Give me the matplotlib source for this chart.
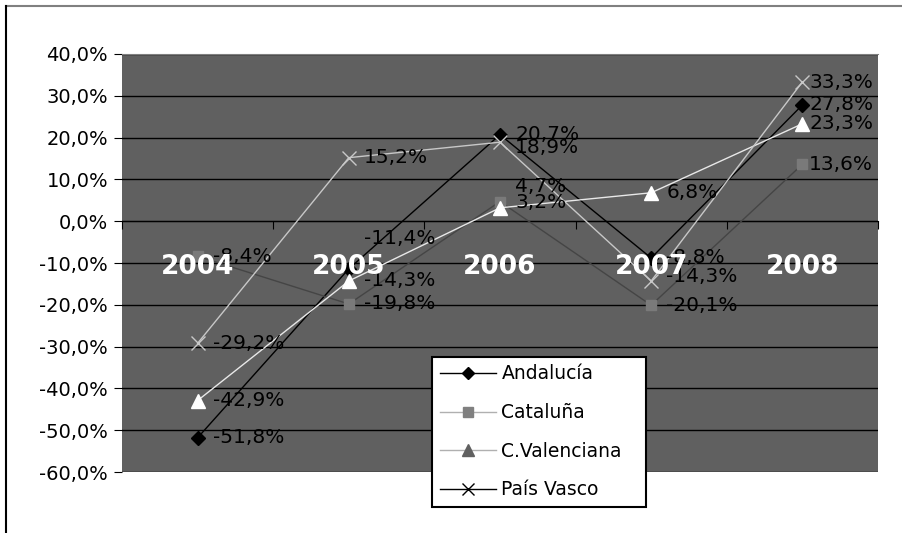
import matplotlib.pyplot as plt
from matplotlib.lines import Line2D

years = ["2004", "2005", "2006", "2007", "2008"]
andalucia = [-51.8, -11.4, 20.7, -8.8, 27.8]
cataluna = [-8.4, -19.8, 4.7, -20.1, 13.6]
valenciana = [-42.9, -14.3, 3.2, 6.8, 23.3]
pais_vasco = [-29.2, 15.2, 18.9, -14.3, 33.3]
names = ["Andalucía", "Cataluña", "C.Valenciana", "País Vasco"]
yticks = [-60, -50, -40, -30, -20, -10, 0, 10, 20, 30, 40]


def pct(v):
    return f"{v:.1f}%".replace(".", ",")


fig = plt.figure(figsize=(9.02, 5.33), dpi=100)
fig.patch.set_facecolor("white")
# outer frame (only top and left visible in the reference)
fig.add_artist(Line2D([0.0066, 1.0], [0.988, 0.988], color="#808080", lw=1.5,
                      transform=fig.transFigure))
fig.add_artist(Line2D([0.0066, 0.0066], [0.0, 0.988], color="black", lw=1.5,
                      transform=fig.transFigure))

ax = fig.add_axes([0.1353, 0.1144, 0.838, 0.7843])
ax.set_facecolor("#606060")
x = list(range(len(years)))

styles = [
    dict(color="black", marker="D", ms=7, mfc="black", mec="black"),
    dict(color="#454545", marker="s", ms=7.5, mfc="#7a7a7a", mec="#7a7a7a"),
    dict(color="#e8e8e8", marker="^", ms=10, mfc="white", mec="white"),
    dict(color="#c8c8c8", marker="x", ms=10, mfc="#c8c8c8", mec="#c8c8c8"),
]
series = [andalucia, cataluna, valenciana, pais_vasco]
for vals, st in zip(series, styles):
    ax.plot(x, vals, lw=1, zorder=3, **st)

# label offsets in points (dx, dy), tuned per label
offsets = {}
for s in range(4):
    for i in range(5):
        offsets[(s, i)] = (11, 0) if i < 4 else (5, 0)
offsets[(0, 1)] = (11, 22)
offsets[(3, 2)] = (11, -4)
offsets[(1, 2)] = (11, 11)
offsets[(2, 2)] = (11, 4)
offsets[(3, 3)] = (11, 3)

for s, vals in enumerate(series):
    for i, v in enumerate(vals):
        ax.annotate(pct(v), (i, v), xytext=offsets[(s, i)],
                    textcoords="offset points", ha="left", va="center",
                    fontsize=14.5, color="black", zorder=5)

for i, yr in enumerate(years):
    ax.text(i, -11, yr, ha="center", va="center", fontsize=19,
            fontweight="bold", color="white", zorder=6)

ax.set_xlim(-0.5, 4.5)
ax.set_ylim(-60, 40)
ax.set_yticks(yticks)
ax.set_yticklabels([pct(v) for v in yticks], fontsize=14)
ax.yaxis.grid(True, color="black", lw=1)
ax.set_axisbelow(True)
ax.tick_params(axis="y", direction="out", length=6, color="black", pad=4)

ax.spines["bottom"].set_position(("data", 0))
ax.spines["bottom"].set_color("black")
ax.set_xticks([i - 0.5 for i in range(6)])
ax.set_xticklabels([])
ax.tick_params(axis="x", direction="out", length=6, color="black")
ax.spines["top"].set_color("#808080")
ax.spines["left"].set_visible(False)
ax.spines["right"].set_visible(False)

handles = [
    Line2D([], [], color="black", lw=1, marker="D", ms=6, mfc="black", mec="black"),
    Line2D([], [], color="#b0b0b0", lw=1, marker="s", ms=7, mfc="#808080", mec="#808080"),
    Line2D([], [], color="#b0b0b0", lw=1, marker="^", ms=9, mfc="#606060", mec="#606060"),
    Line2D([], [], color="black", lw=1, marker="x", ms=9, mfc="black", mec="black"),
]
leg = ax.legend(handles, names, loc="lower left",
                bbox_to_anchor=(0.479, 0.0488, 0.237, 0.287),
                bbox_transform=fig.transFigure, mode="expand",
                fontsize=13.5, frameon=True, fancybox=False, shadow=False,
                framealpha=1, labelspacing=1.05, handlelength=3.0,
                handletextpad=0.3, borderpad=0.4, borderaxespad=0)
leg.get_frame().set_edgecolor("black")
leg.get_frame().set_linewidth(1.5)
leg.get_frame().set_facecolor("white")
leg.set_zorder(10)

fig.savefig("out.png", dpi=100)
